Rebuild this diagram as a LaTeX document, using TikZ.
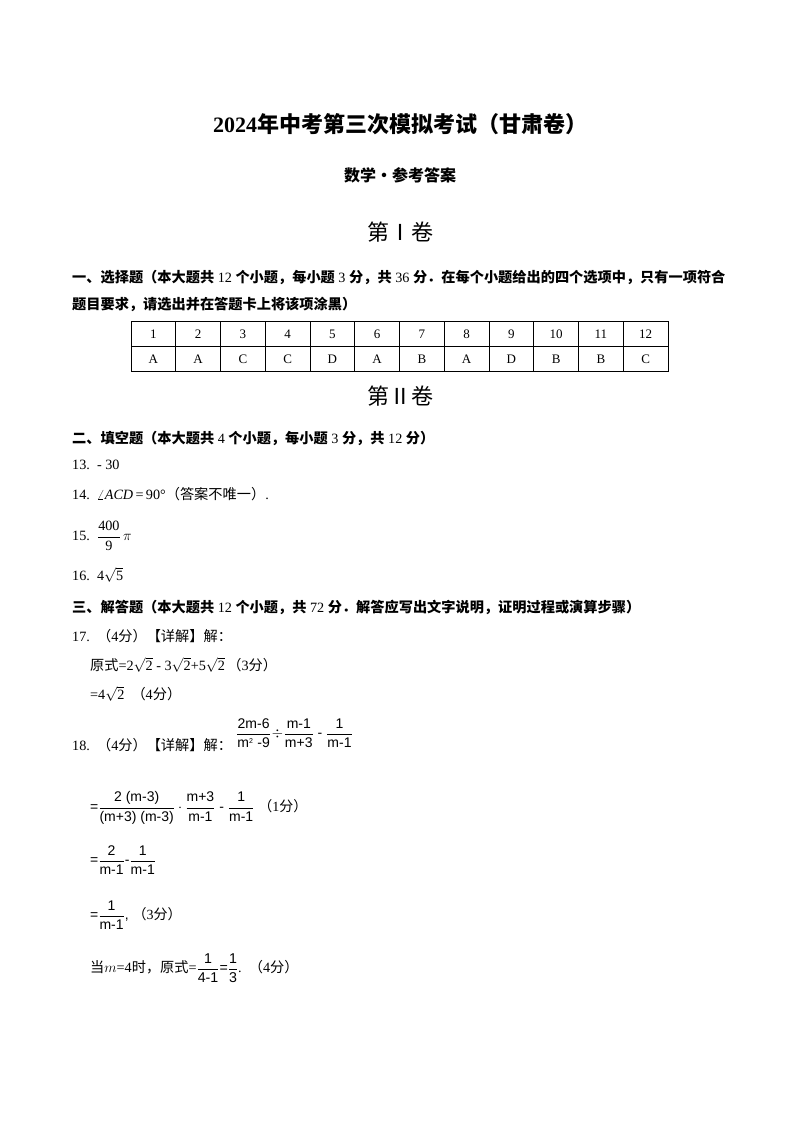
\documentclass[tikz,border=0pt]{standalone}
\usepackage{amsmath}
\usepackage{fontspec}
\setmainfont{Liberation Serif}
\newfontfamily\cjk{Noto Sans CJK SC}
\newfontfamily\msans{Liberation Sans}
\newcommand{\C}[1]{{\cjk #1}}
\begin{document}
\begin{tikzpicture}[x=1pt,y=-1pt,
  t/.style={anchor=west,inner sep=0pt,font=\fontsize{14.2}{17}\selectfont},
  m/.style={anchor=west,inner sep=0pt,font=\msans\fontsize{14}{17}\selectfont},
  cell/.style={inner sep=0pt,font=\fontsize{13}{15}\selectfont}]
\useasboundingbox[fill=white] (0,0) rectangle (800,1132);
\node[inner sep=0pt,font=\fontsize{22}{26}\selectfont\bfseries] (title) at (400,124) {2024\C{\bfseries 年中考第三次模拟考试（甘肃卷）}};
\node[inner sep=0pt,font=\fontsize{16}{19}\selectfont] (sub) at (400,175) {\C{\bfseries 数学·参考答案}};
\node[inner sep=0pt,font=\fontsize{22}{26}\selectfont] (v1) at (400,232) {\C{第Ⅰ卷}};
\node[t] (s1) at (72,277) {\C{\bfseries 一、选择题（本大题共} 12 \C{\bfseries 个小题，每小题} 3 \C{\bfseries 分，共} 36 \C{\bfseries 分．在每个小题给出的四个选项中，只有一项符合}};
\node[t] (s1b) at (72,304) {\C{\bfseries 题目要求，请选出并在答题卡上将该项涂黑）}};
\draw[line width=0.8pt] (131,321) rectangle (668,371);
\draw[line width=0.6pt] (131,346) -- (668,346);
\foreach \i in {1,...,11} \draw[line width=0.6pt] ({131+\i*537/12},321) -- ({131+\i*537/12},371);
\foreach \a [count=\i] in {A,A,C,C,D,A,B,A,D,B,B,C} {
  \node[cell] (n\i) at ({131+(\i-0.5)*537/12},334) {\i};
  \node[cell] (a\i) at ({131+(\i-0.5)*537/12},359) {\a};
}
\node[inner sep=0pt,font=\fontsize{22}{26}\selectfont] (v2) at (400,396) {\C{第Ⅱ卷}};
\node[t] (s2) at (72,438) {\C{\bfseries 二、填空题（本大题共} 4 \C{\bfseries 个小题，每小题} 3 \C{\bfseries 分，共} 12 \C{\bfseries 分）}};
\node[t] (q13) at (72,465) {13.\enspace - 30};
\node[t] (q14) at (72,494) {14.\enspace $\angle \mathit{ACD}$\,=\,90°\C{（答案不唯一）}.};
\node[t] (q15) at (72,536) {15.\enspace $\dfrac{\mbox{400}}{\mbox{9}}\,\pi$};
\node[t] (q16) at (72,575) {16.\enspace 4$\sqrt{\mbox{5}}$};
\node[t] (s3) at (72,607) {\C{\bfseries 三、解答题（本大题共} 12 \C{\bfseries 个小题，共} 72 \C{\bfseries 分．解答应写出文字说明，证明过程或演算步骤）}};
\node[t] (q17) at (72,636) {17.\enspace\C{（}4\C{分）【详解】解：}};
\node[t] (q17a) at (90,665) {\C{原式}=2$\sqrt{\mbox{2}}$ - 3$\sqrt{\mbox{2}}$+5$\sqrt{\mbox{2}}$\,\C{（}3\C{分）}};
\node[t] (q17b) at (90,694) {=4$\sqrt{\mbox{2}}$\enspace\C{（}4\C{分）}};
\node[t] (q18) at (72,745) {18.\enspace\C{（}4\C{分）【详解】解：}};
\node[m] (e0) at (236,733) {$\dfrac{\mbox{2m-6}}{\mbox{m}^{\mbox{\scriptsize 2}}\mbox{ -9}}\!\div\!\dfrac{\mbox{m-1}}{\mbox{m+3}}$ - $\dfrac{\mbox{1}}{\mbox{m-1}}$};
\node[m] (e1) at (90,808) {=$\dfrac{\mbox{2 (m-3)}}{\mbox{(m+3) (m-3)}}\cdot\dfrac{\mbox{m+3}}{\mbox{m-1}}$ - $\dfrac{\mbox{1}}{\mbox{m-1}}$ {\rmfamily\C{（}1\C{分）}}};
\node[m] (e2) at (90,860) {=$\dfrac{\mbox{2}}{\mbox{m-1}}$-$\dfrac{\mbox{1}}{\mbox{m-1}}$};
\node[m] (e3) at (90,915) {=$\dfrac{\mbox{1}}{\mbox{m-1}}$, {\rmfamily\C{（}3\C{分）}}};
\node[t] (e4) at (90,968) {\C{当}$m$=4\C{时，原式}={\msans$\dfrac{\mbox{1}}{\mbox{4-1}}$=$\dfrac{\mbox{1}}{\mbox{3}}$}.\enspace\C{（}4\C{分）}};
\end{tikzpicture}
\end{document}
